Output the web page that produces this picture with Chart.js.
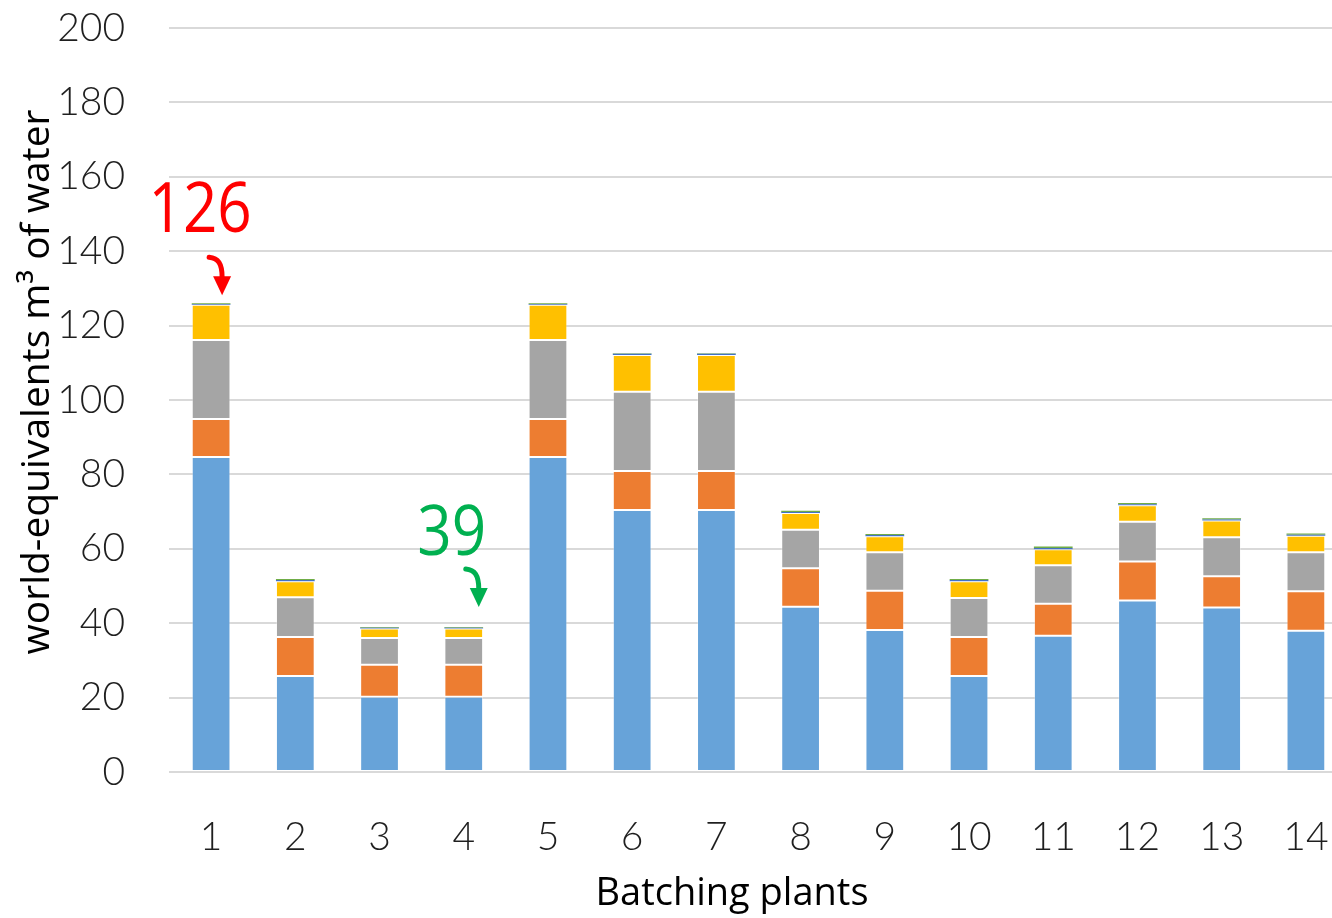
<!DOCTYPE html>
<html>
<head>
<meta charset="utf-8">
<script src="https://cdn.jsdelivr.net/npm/chart.js@4.4.1/dist/chart.umd.min.js"></script>
<style>
  html, body { margin: 0; padding: 0; background: #fff; overflow: hidden; width: 1332px; height: 918px; }
  canvas { display: block; }
</style>
</head>
<body>
<canvas id="chart" width="1348" height="918"></canvas>
<script>
// Batching plants on the category axis
const plants = ['1', '2', '3', '4', '5', '6', '7', '8', '9', '10', '11', '12', '13', '14'];

// Water-use contributions per plant (world-equivalents m³), stacked bottom to top
const partA = [84.7, 25.8, 20.2, 20.2, 84.7, 70.4, 70.4, 44.4, 38.2, 25.8, 36.6, 46.1, 44.2, 38.0];
const partB = [10.2, 10.5, 8.6, 8.6, 10.2, 10.5, 10.5, 10.4, 10.5, 10.5, 8.6, 10.5, 8.4, 10.6];
const partC = [21.2, 10.7, 7.2, 7.2, 21.2, 21.3, 21.3, 10.3, 10.4, 10.5, 10.4, 10.7, 10.5, 10.5];
const partD = [9.5, 4.3, 2.6, 2.6, 9.5, 9.9, 9.9, 4.5, 4.3, 4.5, 4.3, 4.4, 4.5, 4.4];
const partE = [0.2, 0.3, 0.2, 0.2, 0.2, 0.3, 0.3, 0.3, 0.3, 0.3, 0.3, 0.3, 0.3, 0.3];
const partF = [0.2, 0.3, 0.2, 0.2, 0.2, 0.2, 0.2, 0.3, 0.3, 0.3, 0.4, 0.3, 0.3, 0.3];

// Value axis range
const yMin = 0;
const yMax = 200;
const yStep = 20;

// Axis titles
const xTitle = 'Batching plants';
const yTitle = 'world-equivalents m³ of water';

// Totals called out above two of the bars
const calloutBars = [0, 3];
const calloutTexts = ['126', '39'];

const seriesList = [partA, partB, partC, partD, partE, partF];
const seriesColors = ['#67A3D9', '#ED7D31', '#A5A5A5', '#FFC000', '#4472C4', '#70AD47'];

// Red / green callouts: number plus a small hooked arrow pointing at the stack top
const calloutStyle = [
  { color: '#FF0000', textDx: -11, textDy: -71, arrowDx: -2, arrowDy: -46 },
  { color: '#00B050', textDx: -12, textDy: -72, arrowDx: 2, arrowDy: -58 }
];

const calloutPlugin = {
  id: 'callouts',
  afterDatasetsDraw(chart) {
    const { ctx, scales } = chart;
    calloutBars.forEach((bar, i) => {
      const total = seriesList.reduce((s, arr) => s + arr[bar], 0);
      const st = calloutStyle[i];
      const x = scales.x.getPixelForValue(bar);
      const yTop = scales.y.getPixelForValue(total);
      ctx.save();
      ctx.fillStyle = st.color;
      ctx.strokeStyle = st.color;

      // number, slightly condensed
      ctx.save();
      ctx.translate(x + st.textDx, yTop + st.textDy);
      ctx.scale(0.86, 1);
      ctx.font = '400 70px "Open Sans", sans-serif';
      ctx.textAlign = 'center';
      ctx.textBaseline = 'alphabetic';
      ctx.fillText(calloutTexts[i], 0, 0);
      ctx.restore();

      // hooked arrow
      const sx = x + st.arrowDx;
      const sy = yTop + st.arrowDy;
      ctx.lineWidth = 5;
      ctx.lineCap = 'round';
      ctx.beginPath();
      ctx.moveTo(sx, sy);
      ctx.bezierCurveTo(sx + 9, sy + 1, sx + 13, sy + 6, sx + 13, sy + 20);
      ctx.stroke();
      ctx.beginPath();
      ctx.moveTo(sx + 4, sy + 19);
      ctx.lineTo(sx + 22, sy + 19);
      ctx.lineTo(sx + 13, sy + 38);
      ctx.closePath();
      ctx.fill();
      ctx.restore();
    });
  }
};

// Axis titles placed like the original layout (not centred on the plot)
const axisTitlePlugin = {
  id: 'axisTitles',
  afterDraw(chart) {
    const { ctx } = chart;
    ctx.save();
    ctx.fillStyle = '#000';
    ctx.font = '400 38px "Open Sans", sans-serif';
    ctx.textAlign = 'center';
    ctx.textBaseline = 'alphabetic';
    ctx.fillText(xTitle, 732, 905);

    ctx.translate(49, 382);
    ctx.rotate(-Math.PI / 2);
    ctx.font = '400 39px "Open Sans", sans-serif';
    ctx.fillText(yTitle, 0, 0);
    ctx.restore();
  }
};

const datasets = seriesList.map((values, i) => ({
  label: 'Series ' + (i + 1),
  data: values,
  backgroundColor: seriesColors[i],
  borderColor: i < 4 ? 'rgba(255,255,255,0.3)' : seriesColors[i],
  borderWidth: i < 4 ? 1 : 0,
  borderSkipped: false,
  barPercentage: 0.46,
  categoryPercentage: 1.0
}));

const tickFont = { family: 'Lato, "Open Sans", sans-serif', size: 39, weight: '300' };

new Chart(document.getElementById('chart'), {
  type: 'bar',
  data: { labels: plants, datasets },
  options: {
    responsive: false,
    animation: false,
    devicePixelRatio: 1,
    layout: { padding: { top: 28, left: 0, right: 0, bottom: 0 } },
    plugins: {
      legend: { display: false },
      tooltip: { enabled: false }
    },
    scales: {
      x: {
        stacked: true,
        grid: { display: false, drawTicks: false },
        border: { display: false },
        ticks: {
          color: '#1F1F1F',
          font: tickFont,
          padding: 42,
          maxRotation: 0,
          autoSkip: false
        },
        afterFit(scale) {
          scale.height = 146;
          scale.paddingLeft = 0;
          scale.paddingRight = 0;
        }
      },
      y: {
        stacked: true,
        min: yMin,
        max: yMax,
        grid: { color: '#D9D9D9', lineWidth: 2, drawTicks: false },
        border: { display: false },
        ticks: {
          stepSize: yStep,
          color: '#1F1F1F',
          font: tickFont,
          padding: 44
        },
        afterFit(scale) {
          scale.width = 169;
          scale.paddingTop = 0;
          scale.paddingBottom = 0;
        }
      }
    }
  },
  plugins: [calloutPlugin, axisTitlePlugin]
});
</script>
</body>
</html>
